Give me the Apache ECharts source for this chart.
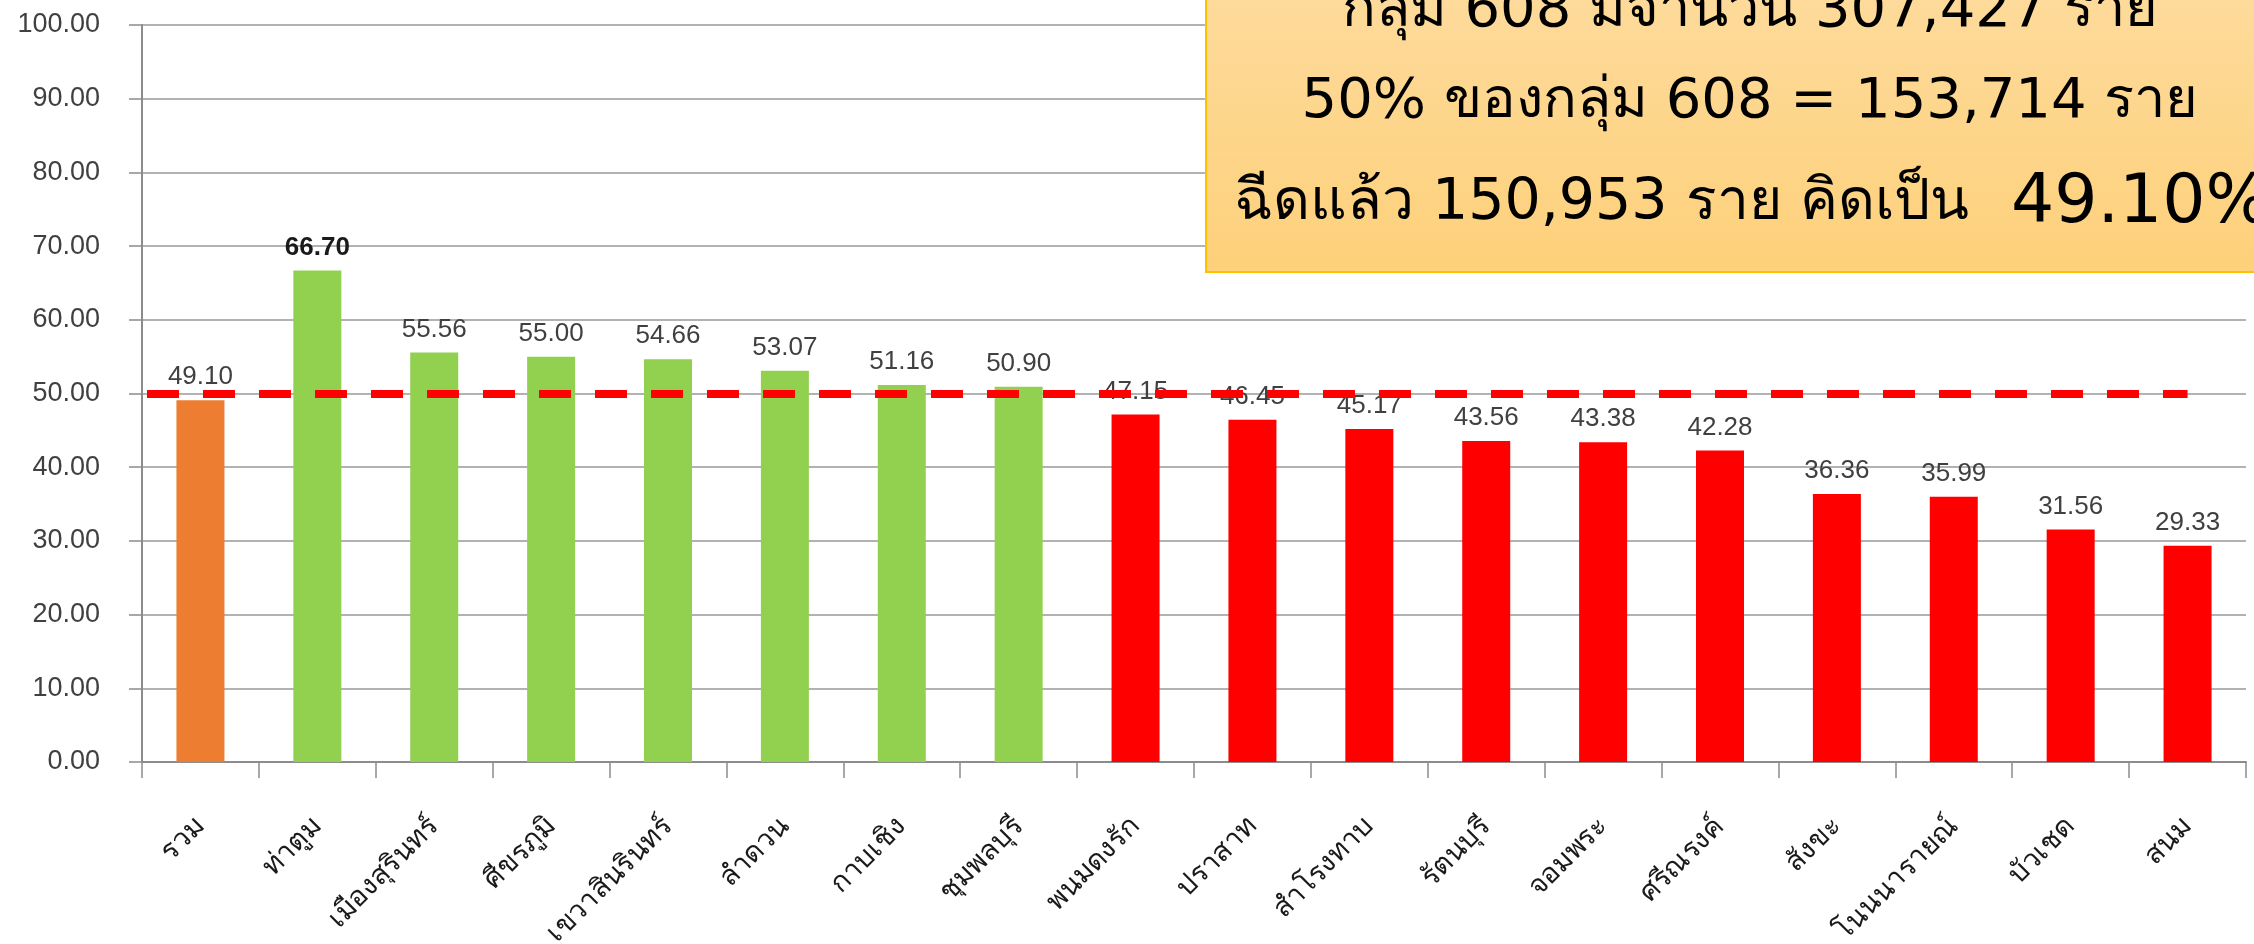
<!DOCTYPE html>
<html>
<head>
<meta charset="utf-8">
<script src="https://cdn.jsdelivr.net/npm/echarts@6/dist/echarts.min.js"></script>
<style>
html,body{margin:0;padding:0;background:#fff;}
#chart{width:2254px;height:944px;}
</style>
</head>
<body>
<div id="chart"></div>
<script>
// ---- data ----
const categories = ['รวม','ท่าตูม','เมืองสุรินทร์','ศีขรภูมิ','เขวาสินรินทร์','ลำดวน','กาบเชิง','ชุมพลบุรี','พนมดงรัก','ปราสาท','สำโรงทาบ','รัตนบุรี','จอมพระ','ศรีณรงค์','สังขะ','โนนนารายณ์','บัวเชด','สนม'];
const values = [49.10,66.70,55.56,55.00,54.66,53.07,51.16,50.90,47.15,46.45,45.17,43.56,43.38,42.28,36.36,35.99,31.56,29.33];
const target = 50;
const yTicks = [0,10,20,30,40,50,60,70,80,90,100];
const noteLines = ['กลุ่ม 608 มีจำนวน 307,427 ราย','50% ของกลุ่ม 608 = 153,714 ราย','ฉีดแล้ว 150,953 ราย คิดเป็น ','49.10%'];

// ---- styling ----
const C_TOTAL = '#ED7D31', C_PASS = '#92D050', C_FAIL = '#FF0000';
const maxVal = Math.max(...values);
const FONT = 'Liberation Sans, Tahoma, sans-serif';
const NOTE_FONT = '"DejaVu Sans", sans-serif';

const barData = values.map((v, i) => ({
  value: v,
  itemStyle: { color: i === 0 ? C_TOTAL : (v >= target ? C_PASS : C_FAIL) },
  label: v === maxVal ? { fontWeight: 'bold', color: '#1a1a1a' } : undefined
}));

const chart = echarts.init(document.getElementById('chart'), null, { renderer: 'canvas' });
chart.setOption({
  animation: false,
  backgroundColor: '#ffffff',
  grid: { left: 142, right: 8, top: 25, bottom: 182, containLabel: false, outerBoundsMode: 'none' },
  xAxis: {
    type: 'category',
    data: categories,
    boundaryGap: true,
    axisLine: { show: true, lineStyle: { color: '#8c8c8c', width: 2 } },
    axisTick: { show: true, length: 16, lineStyle: { color: '#8c8c8c', width: 1.5 } },
    axisLabel: { interval: 0, rotate: 45, margin: 60, fontSize: 28, color: '#1a1a1a', fontFamily: FONT }
  },
  yAxis: {
    type: 'value',
    min: yTicks[0],
    max: yTicks[yTicks.length - 1],
    interval: yTicks[1] - yTicks[0],
    axisLine: { show: true, lineStyle: { color: '#8c8c8c', width: 2 } },
    axisTick: { show: true, length: 13, lineStyle: { color: '#8c8c8c', width: 1.5 } },
    splitLine: { show: true, lineStyle: { color: '#999999', width: 1.5 } },
    axisLabel: { margin: 42, fontSize: 27, color: '#404040', fontFamily: FONT, formatter: v => v.toFixed(2) }
  },
  series: [{
    type: 'bar',
    data: barData,
    barWidth: 48,
    label: { show: true, position: 'top', distance: 10, fontSize: 26, color: '#404040', fontFamily: FONT, formatter: p => p.value.toFixed(2) },
    markLine: {
      silent: true,
      symbol: 'none',
      label: { show: false },
      lineStyle: { color: '#FF0000', width: 8, type: [32, 24] },
      data: [[{ coord: [0, target], x: 147 }, { coord: [categories.length - 1, target] }]]
    },
    z: 2
  }],
  graphic: [
    {
      type: 'rect', z: 100,
      shape: { x: 1206, y: -10, width: 1100, height: 282 },
      style: {
        fill: new echarts.graphic.LinearGradient(0, 0, 0, 1, [
          { offset: 0, color: '#FEDB9C' },
          { offset: 1, color: '#FDD07A' }
        ]),
        stroke: '#FFC000', lineWidth: 2
      }
    },
    {
      type: 'text', z: 101, x: 1750, y: 11,
      style: { text: noteLines[0], font: '56px ' + NOTE_FONT, fill: '#000', align: 'center', verticalAlign: 'middle' }
    },
    {
      type: 'text', z: 101, x: 1750, y: 102,
      style: { text: noteLines[1], font: '56px ' + NOTE_FONT, fill: '#000', align: 'center', verticalAlign: 'middle' }
    },
    {
      type: 'text', z: 101, x: 1752, y: 204,
      style: {
        text: '{a|' + noteLines[2] + '}{b|' + noteLines[3] + '}',
        align: 'center', verticalAlign: 'middle',
        rich: {
          a: { fontSize: 57, fontFamily: NOTE_FONT, fill: '#000', color: '#000' },
          b: { fontSize: 68, fontFamily: NOTE_FONT, fill: '#000', color: '#000', padding: [0, 0, 0, 24] }
        }
      }
    }
  ]
});
</script>
</body>
</html>
